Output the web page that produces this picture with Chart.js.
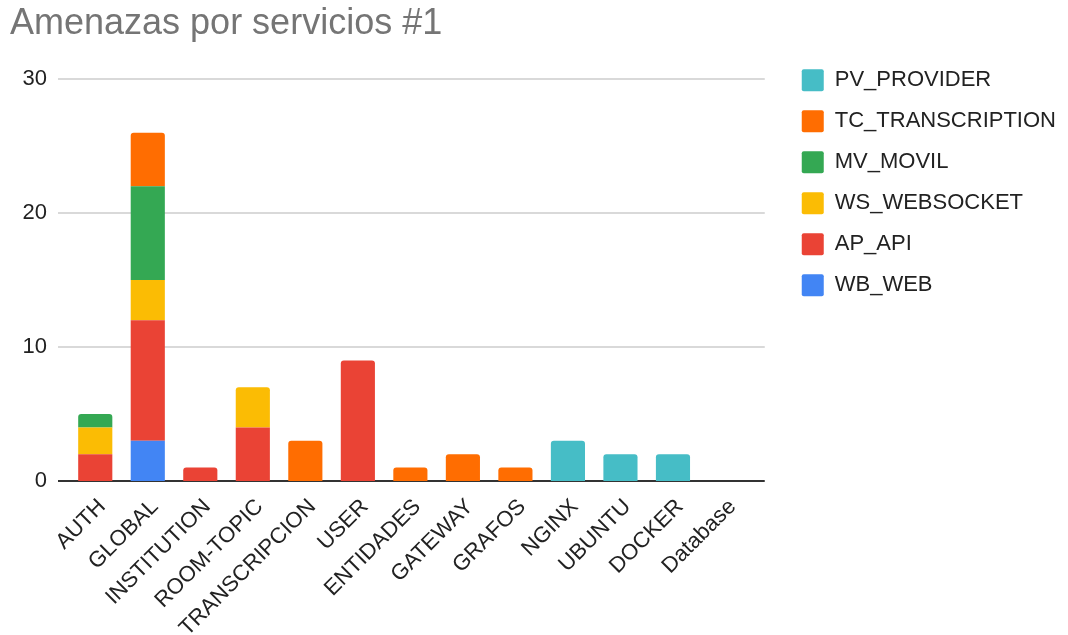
<!DOCTYPE html>
<html lang="es">
<head>
    <meta charset="UTF-8">
    <title>Amenazas por servicios #1</title>
    <script src="https://cdn.jsdelivr.net/npm/chart.js"></script>
    <style>
        html, body { margin: 0; padding: 0; background: #fff; }
        #wrap { position: relative; width: 1068px; height: 635px; }
    </style>
</head>
<body>
<div id="wrap">
    <canvas id="threatChart"></canvas>
</div>

<script>
    // Servicios en el eje X
    const services = ['AUTH', 'GLOBAL', 'INSTITUTION', 'ROOM-TOPIC', 'TRANSCRIPCION', 'USER',
        'ENTIDADES', 'GATEWAY', 'GRAFOS', 'NGINX', 'UBUNTU', 'DOCKER', 'Database'];

    // Numero de amenazas por categoria (un valor por servicio)
    const wbWeb           = [0, 3, 0, 0, 0, 0, 0, 0, 0, 0, 0, 0, 0];
    const apApi           = [2, 9, 1, 4, 0, 9, 0, 0, 0, 0, 0, 0, 0];
    const wsWebsocket     = [2, 3, 0, 3, 0, 0, 0, 0, 0, 0, 0, 0, 0];
    const mvMovil         = [1, 7, 0, 0, 0, 0, 0, 0, 0, 0, 0, 0, 0];
    const tcTranscription = [0, 4, 0, 0, 3, 0, 1, 2, 1, 0, 0, 0, 0];
    const pvProvider      = [0, 0, 0, 0, 0, 0, 0, 0, 0, 3, 2, 2, 0];

    const yTicks = [0, 10, 20, 30];

    const FONT = "'Liberation Sans', Arial, sans-serif";

    // Lineas horizontales un poco mas anchas que el area de barras
    const gridLines = {
        id: 'gridLines',
        beforeDatasetsDraw(chart) {
            const {ctx, chartArea, scales: {y}} = chart;
            const left = chartArea.left - 11;
            const right = chartArea.right + 13;
            ctx.save();
            yTicks.forEach(v => {
                const py = Math.round(y.getPixelForValue(v));
                ctx.beginPath();
                ctx.lineWidth = v === 0 ? 2 : 1.5;
                ctx.strokeStyle = v === 0 ? '#333333' : '#cccccc';
                ctx.moveTo(left, py);
                ctx.lineTo(right, py);
                ctx.stroke();
            });
            ctx.restore();
        }
    };

    // Separa la leyenda del area del grafico y la sube a la altura del eje
    const legendPlacement = {
        id: 'legendPlacement',
        afterLayout(chart) {
            const lg = chart.legend;
            const top = chart.chartArea.top - 29;
            lg.left = chart.chartArea.right + 31;
            lg.right = chart.width;
            lg.width = lg.right - lg.left;
            lg.bottom = top + (lg.bottom - lg.top);
            lg.top = top;
        }
    };

    const ctx = document.getElementById('threatChart').getContext('2d');
    new Chart(ctx, {
        type: 'bar',
        data: {
            labels: services,
            datasets: [
                { label: 'WB_WEB', data: wbWeb, backgroundColor: '#4285f4' },
                { label: 'AP_API', data: apApi, backgroundColor: '#ea4335' },
                { label: 'WS_WEBSOCKET', data: wsWebsocket, backgroundColor: '#fbbc04' },
                { label: 'MV_MOVIL', data: mvMovil, backgroundColor: '#34a853' },
                { label: 'TC_TRANSCRIPTION', data: tcTranscription, backgroundColor: '#ff6d01' },
                { label: 'PV_PROVIDER', data: pvProvider, backgroundColor: '#46bdc6' }
            ]
        },
        options: {
            responsive: true,
            maintainAspectRatio: false,
            animation: false,
            layout: {
                padding: { left: 10, right: 69, top: 0, bottom: 0 }
            },
            datasets: {
                bar: {
                    categoryPercentage: 1,
                    barPercentage: 0.65,
                    borderRadius: 3,
                    borderSkipped: 'start'
                }
            },
            scales: {
                x: {
                    stacked: true,
                    grid: { display: false },
                    border: { display: false },
                    afterFit(scale) { scale.height = 154; },
                    ticks: {
                        autoSkip: false,
                        minRotation: 45,
                        maxRotation: 45,
                        padding: 5,
                        labelOffset: 7,
                        color: '#222222',
                        font: { family: FONT, size: 22 }
                    }
                },
                y: {
                    stacked: true,
                    min: 0,
                    max: 30,
                    grid: { display: false, drawTicks: false },
                    border: { display: false },
                    afterFit(scale) { scale.width = 59; },
                    afterBuildTicks(scale) { scale.ticks = yTicks.map(v => ({ value: v })); },
                    ticks: {
                        padding: 22,
                        color: '#222222',
                        font: { family: FONT, size: 22 }
                    }
                }
            },
            plugins: {
                title: {
                    display: true,
                    text: 'Amenazas por servicios #1',
                    align: 'start',
                    color: '#757575',
                    font: { family: FONT, size: 36, weight: 'normal' },
                    padding: { top: 2, bottom: 34 }
                },
                legend: {
                    position: 'right',
                    align: 'start',
                    reverse: true,
                    labels: {
                        boxWidth: 22,
                        boxHeight: 22,
                        padding: 19,
                        useBorderRadius: true,
                        borderRadius: 2,
                        color: '#222222',
                        font: { family: FONT, size: 22 }
                    }
                },
                tooltip: { enabled: false }
            }
        },
        plugins: [gridLines, legendPlacement]
    });
</script>
</body>
</html>
